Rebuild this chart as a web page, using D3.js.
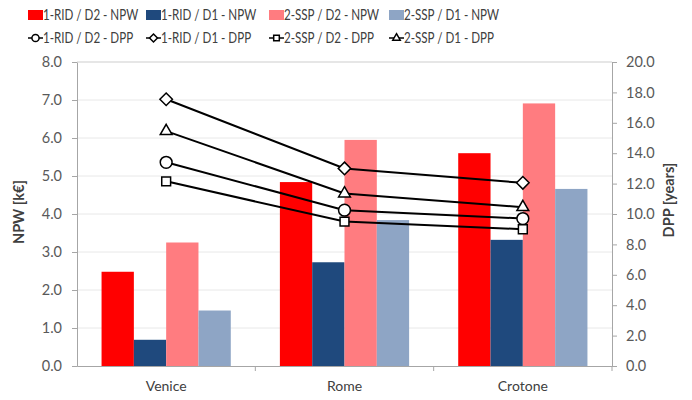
<!DOCTYPE html>
<html><head><meta charset="utf-8">
<script src="https://cdn.jsdelivr.net/npm/d3@7"></script>
<style>body{margin:0;background:#fff;} text{font-family:Lato,"Open Sans",sans-serif;}</style>
</head><body><svg id="c" width="692" height="400"></svg>
<script>
const categories = ["Venice", "Rome", "Crotone"];
const barSeries = ["1-RID / D2 - NPW", "1-RID / D1 - NPW", "2-SSP / D2 - NPW", "2-SSP / D1 - NPW"];
const barColors = ["#ff0000", "#1f497d", "#ff7c80", "#8ea5c5"];
const npw_RID_D2 = [2.48, 4.84, 5.60];
const npw_RID_D1 = [0.69, 2.73, 3.32];
const npw_SSP_D2 = [3.25, 5.95, 6.91];
const npw_SSP_D1 = [1.46, 3.84, 4.66];
const lineSeries = ["1-RID / D2 - DPP", "1-RID / D1 - DPP", "2-SSP / D2 - DPP", "2-SSP / D1 - DPP"];
const lineMarkers = ["circle", "diamond", "square", "triangle"];
const dpp_RID_D2 = [13.4, 10.25, 9.7];
const dpp_RID_D1 = [17.55, 13.0, 12.05];
const dpp_SSP_D2 = [12.15, 9.5, 9.0];
const dpp_SSP_D1 = [15.45, 11.35, 10.45];
const leftTicks = [0,1,2,3,4,5,6,7,8];
const rightTicks = [0,2,4,6,8,10,12,14,16,18,20];

const barData = [npw_RID_D2, npw_RID_D1, npw_SSP_D2, npw_SSP_D1];
const lineData = [dpp_RID_D2, dpp_RID_D1, dpp_SSP_D2, dpp_SSP_D1];

const svg = d3.select("#c");
const L = 77, R = 612, T = 62, B = 366;
const x = d3.scaleBand().domain(categories).range([L, R]).padding(0);
const xi = d3.scaleBand().domain(d3.range(4)).range([0, x.bandwidth()]).paddingInner(0).paddingOuter(0.76);
const yL = d3.scaleLinear().domain([0, 8]).range([B, T]);
const yR = d3.scaleLinear().domain([0, 20]).range([B, T]);
const axisCol = "#a6a6a6", textCol = "#595959";
const condense = 0.8;
function narrow(sel) {
  sel.each(function() {
    const w = this.getComputedTextLength();
    d3.select(this).attr("textLength", w * condense).attr("lengthAdjust", "spacingAndGlyphs");
  });
}

// gridlines
svg.append("g").selectAll("line").data(leftTicks.slice(1)).join("line")
  .attr("x1", L).attr("x2", R).attr("y1", d => yL(d)).attr("y2", d => yL(d))
  .attr("stroke", "#e8e8e8").attr("stroke-width", 1);

// bars
barData.forEach((arr, i) => {
  svg.append("g").selectAll("rect").data(arr).join("rect")
    .attr("x", (d, j) => x(categories[j]) + xi(i))
    .attr("width", xi.bandwidth())
    .attr("y", d => yL(d))
    .attr("height", d => B - yL(d))
    .attr("fill", barColors[i]);
});

// axes
const gl = svg.append("g").attr("transform", `translate(${L},0)`)
  .call(d3.axisLeft(yL).tickValues(leftTicks).tickFormat(d3.format(".1f")).tickSize(5).tickPadding(10));
const gr = svg.append("g").attr("transform", `translate(${R},0)`)
  .call(d3.axisRight(yR).tickValues(rightTicks).tickFormat(d3.format(".1f")).tickSize(5).tickPadding(9));
[gl, gr].forEach(g => {
  g.selectAll("path,line").attr("stroke", axisCol);
  g.selectAll("text").attr("fill", textCol).style("font-size", "14.5px").style("font-family", "Lato, sans-serif");
});
const gb = svg.append("g").attr("transform", `translate(0,${B})`)
  .call(d3.axisBottom(x).tickSize(0).tickPadding(15));
gb.select("path").attr("stroke", axisCol);
gb.selectAll("text").attr("fill", "#404040").style("font-size", "14px").style("font-family", "Lato, sans-serif");
// category boundary ticks
svg.append("g").selectAll("line").data([x(categories[1]), x(categories[2]), R]).join("line")
  .attr("x1", d => d).attr("x2", d => d).attr("y1", B).attr("y2", B + 5).attr("stroke", axisCol);
svg.append("line").attr("x1", L).attr("x2", R).attr("y1", T).attr("y2", T).attr("stroke", "#d9d9d9");

// axis titles
svg.append("text").attr("transform", `translate(24,${(T+B)/2 - 2}) rotate(-90)`).attr("text-anchor", "middle")
  .style("font-size", "14.5px").style("font-weight", "bold").attr("fill", "#404040").text("NPW  [k€]");
svg.append("text").attr("transform", `translate(674,${(T+B)/2 - 14}) rotate(-90)`).attr("text-anchor", "middle")
  .style("font-size", "14.5px").style("font-weight", "bold").attr("fill", "#404040").text("DPP  [years]");

// marker drawing
function marker(g, type, cx, cy, s) {
  const p = d3.symbol().type({circle: d3.symbolCircle, diamond: d3.symbolDiamond2, square: d3.symbolSquare2, triangle: d3.symbolTriangle2}[type]).size(s)();
  g.append("path").attr("d", p).attr("transform", `translate(${cx},${cy})`)
    .attr("fill", "#fff").attr("stroke", "#000").attr("stroke-width", 1.5);
}
const line = d3.line().x((d, j) => x(categories[j]) + x.bandwidth() / 2).y(d => yR(d));
lineData.forEach((arr, i) => {
  svg.append("path").datum(arr).attr("d", line).attr("fill", "none").attr("stroke", "#000").attr("stroke-width", 2);
});
lineData.forEach((arr, i) => {
  const g = svg.append("g");
  arr.forEach((d, j) => marker(g, lineMarkers[i], x(categories[j]) + x.bandwidth() / 2, yR(d), i===0?110:100));
});

// legend
const legX = [28, 146, 269, 389];
barSeries.forEach((s, i) => {
  svg.append("rect").attr("x", legX[i]).attr("y", 10).attr("width", 15).attr("height", 10).attr("fill", barColors[i]);
  svg.append("text").attr("x", legX[i] + 15).attr("y", 20).style("font-size", "14.5px").attr("fill", "#404040").text(s).call(narrow);
});
lineSeries.forEach((s, i) => {
  const g = svg.append("g");
  g.append("line").attr("x1", legX[i]).attr("x2", legX[i] + 15).attr("y1", 38).attr("y2", 38).attr("stroke", "#000").attr("stroke-width", 1.5);
  marker(g, lineMarkers[i], legX[i] + 7.5, 38, 40);
  svg.append("text").attr("x", legX[i] + 15).attr("y", 43).style("font-size", "14.5px").attr("fill", "#404040").text(s).call(narrow);
});
</script></body></html>
